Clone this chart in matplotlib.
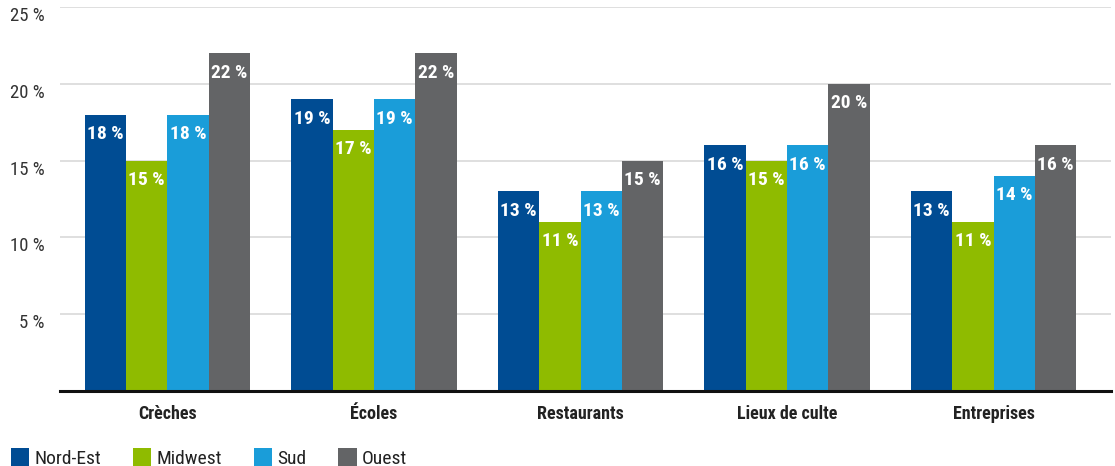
import matplotlib.pyplot as plt
import numpy as np
from matplotlib.patches import Patch

categories = ["Crèches", "Écoles", "Restaurants", "Lieux de culte", "Entreprises"]
regions = ["Nord-Est", "Midwest", "Sud", "Ouest"]
nord_est = [18, 19, 13, 16, 13]
midwest = [15, 17, 11, 15, 11]
sud = [18, 19, 13, 16, 14]
ouest = [22, 22, 15, 20, 16]
colors = ["#004c93", "#8fbb00", "#1a9dd9", "#636466"]

plt.rcParams["font.family"] = ["Roboto Condensed", "IBM Plex Sans Condensed", "DejaVu Sans"]

fig = plt.figure(figsize=(11.15, 4.66), dpi=100)
ax = fig.add_axes([0.0538, 0.161, 0.943, 0.824])

x = np.arange(len(categories))
width = 0.2
series = [nord_est, midwest, sud, ouest]
for i, (vals, col) in enumerate(zip(series, colors)):
    pos = x + (i - 1.5) * width
    ax.bar(pos, vals, width, color=col, zorder=2)
    for px, v in zip(pos, vals):
        ax.annotate(f"{v} %", (px, v), xytext=(0, -14), textcoords="offset points",
                    ha="center", va="center", color="white", fontsize=14,
                    fontweight="bold")

ax.set_xlim(-0.52, 4.57)
ax.set_ylim(0, 25)
ax.set_yticks([5, 10, 15, 20, 25])
ax.set_yticklabels([f"{t} %" for t in [5, 10, 15, 20, 25]], fontsize=13.5,
                   color="#333333", va="top")
ax.set_xticks(x)
ax.set_xticklabels(categories, fontsize=13, fontweight="bold", color="#222222")
ax.tick_params(axis="y", length=0, pad=11)
ax.tick_params(axis="x", length=0, pad=10)
ax.grid(axis="y", color="#d9d9d9", linewidth=1.2, zorder=0)
for s in ["top", "right", "left"]:
    ax.spines[s].set_visible(False)
ax.spines["bottom"].set_linewidth(2.2)
ax.spines["bottom"].set_color("#111111")
ax.spines["bottom"].set_zorder(3)

handles = [Patch(facecolor=c, label=r) for c, r in zip(colors, regions)]
fig.legend(handles=handles, loc="lower left", bbox_to_anchor=(-0.006, -0.042), ncol=4,
           frameon=False, fontsize=14, handlelength=0.95, handleheight=1.2,
           handletextpad=0.25, columnspacing=1.65, borderpad=0.4, labelcolor="#222222")

fig.savefig("out.png", dpi=100)
